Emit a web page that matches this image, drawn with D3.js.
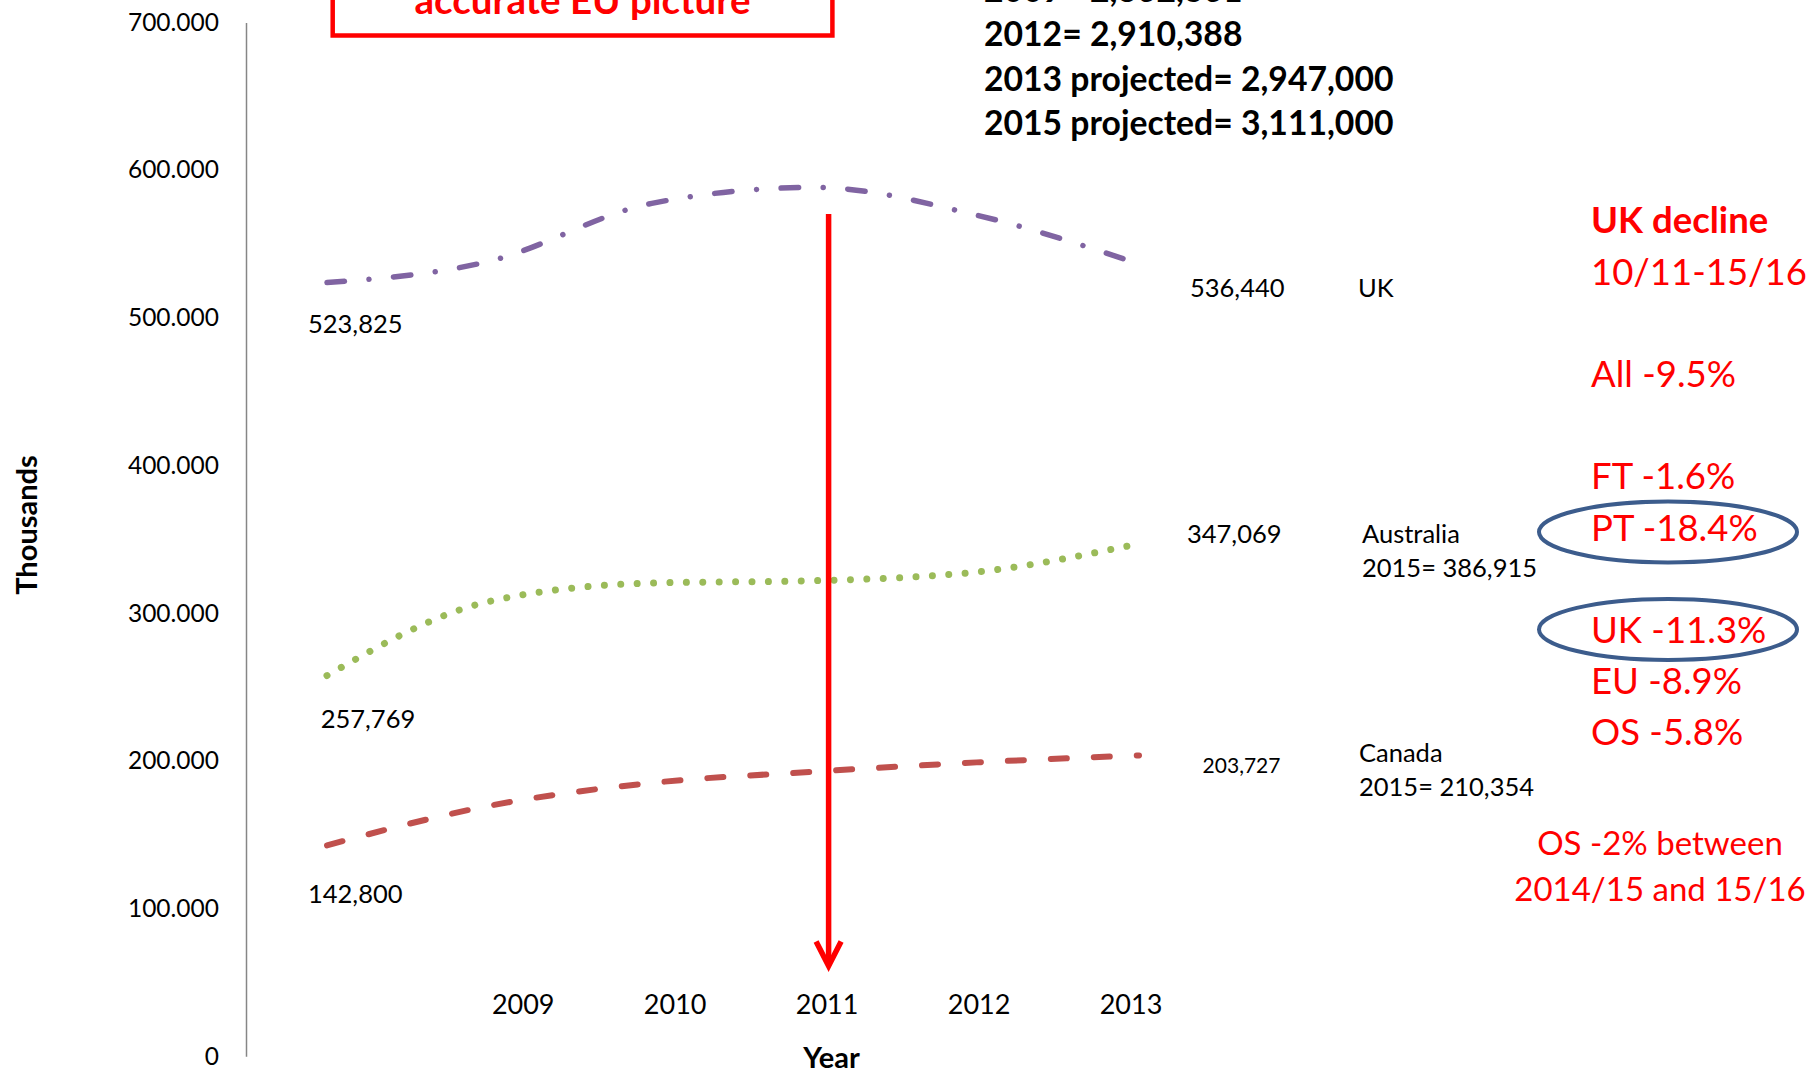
<!DOCTYPE html>
<html>
<head>
<meta charset="utf-8">
<script src="https://cdn.jsdelivr.net/npm/d3@7"></script>
<style>
  html, body { margin: 0; padding: 0; background: #fff; }
  svg { display: block; font-family: Lato, "Open Sans", sans-serif; }
</style>
</head>
<body>
<svg id="chart" width="1810" height="1073"></svg>
<script>
// ---- data ----
const periods = ["2008", "2009", "2010", "2011", "2012", "2013"];
const ukValues = [523825, 538300, 577500, 588300, 569500, 536440];
const australiaValues = [257769, 308000, 320400, 322000, 327900, 347069];
const canadaValues = [142800, 169600, 185100, 192700, 199000, 203727];
const projected2015 = { Australia: 386915, Canada: 210354 };

const yearLabels = ["2009", "2010", "2011", "2012", "2013"];
const yTicks = [0, 100000, 200000, 300000, 400000, 500000, 600000, 700000];

const totalsLines = [
  "2009= 2,862,361",
  "2012= 2,910,388",
  "2013 projected= 2,947,000",
  "2015 projected= 3,111,000"
];
const declineLines = [
  "UK decline", "10/11-15/16", "", "All -9.5%", "", "FT -1.6%", "PT -18.4%", "",
  "UK -11.3%", "EU -8.9%", "OS -5.8%"
];
const circledLines = [6, 8];
const footLines = ["OS -2% between", "2014/15 and 15/16"];
const boxTitle = "accurate EU picture";

// ---- setup ----
const svg = d3.select("#chart");
svg.append("rect").attr("width", 1810).attr("height", 1073).attr("fill", "#fff");

const x = d3.scalePoint().domain(periods).range([327, 1139]);
const y = d3.scaleLinear().domain([0, 700000]).range([1056.3, 22.4]);
const yearX = d3.scalePoint().domain(yearLabels).range([522.7, 1130.5]);

const tickFmt = d3.formatLocale({ decimal: ",", thousands: ".", grouping: [3], currency: ["", ""] }).format(",");
const valFmt = d3.format(",");

// ---- y axis ----
const yAxis = svg.append("g")
  .attr("transform", "translate(246,0)")
  .call(d3.axisLeft(y).tickValues(yTicks).tickSizeInner(0).tickSizeOuter(0).tickPadding(27).tickFormat(tickFmt));
yAxis.select(".domain").attr("stroke", "#868686").attr("stroke-width", 1.5);
yAxis.selectAll("text")
  .attr("font-family", "Lato, sans-serif")
  .attr("font-size", 24.5)
  .attr("fill", "#000");

svg.append("text")
  .attr("transform", "translate(36.5,525) rotate(-90)")
  .attr("text-anchor", "middle")
  .attr("font-weight", "bold")
  .attr("font-size", 29)
  .text("Thousands");

// ---- x labels ----
const xAxis = svg.append("g")
  .attr("transform", "translate(0,1014)")
  .call(d3.axisBottom(yearX).tickSize(0).tickPadding(0));
xAxis.select(".domain").remove();
xAxis.selectAll("text")
  .attr("y", 0).attr("dy", 0)
  .attr("font-family", "Lato, sans-serif")
  .attr("font-size", 27)
  .attr("fill", "#000");

svg.append("text")
  .attr("x", 831.6).attr("y", 1068)
  .attr("text-anchor", "middle")
  .attr("font-weight", "bold")
  .attr("font-size", 29)
  .text("Year");

// ---- series ----
const series = [
  { name: "UK", values: ukValues, color: "#8064A2", width: 5.5, dash: "17.5,24.6,0.01,24.6",
    startOff: [-19, 50.7], endOff: [51, 33.3], endSize: 25.5,
    tag: ["UK"], tagOff: [219, 33.3] },
  { name: "Australia", values: australiaValues, color: "#9BBB59", width: 7, dash: "0.01,16.4",
    startOff: [-6.3, 52.3], endOff: [48, -1], endSize: 25.5,
    tag: ["Australia", "2015= " + valFmt(projected2015.Australia)], tagOff: [223, -1] },
  { name: "Canada", values: canadaValues, color: "#C0504D", width: 6, dash: "16,27",
    startOff: [-19, 57.4], endOff: [63.6, 17.6], endSize: 21,
    tag: ["Canada", "2015= " + valFmt(projected2015.Canada)], tagOff: [220, 6.3] }
];

const line = d3.line()
  .x((d, i) => x(periods[i]))
  .y(d => y(d))
  .curve(d3.curveMonotoneX);

series.forEach(s => {
  svg.append("path")
    .attr("d", line(s.values))
    .attr("fill", "none")
    .attr("stroke", s.color)
    .attr("stroke-width", s.width)
    .attr("stroke-linecap", "round")
    .attr("stroke-dasharray", s.dash);

  const first = s.values[0], last = s.values[s.values.length - 1];
  const x0 = x(periods[0]), x1 = x(periods[periods.length - 1]);

  svg.append("text")
    .attr("x", x0 + s.startOff[0]).attr("y", y(first) + s.startOff[1])
    .attr("font-size", 25.5)
    .text(valFmt(first));

  svg.append("text")
    .attr("x", x1 + s.endOff[0]).attr("y", y(last) + s.endOff[1])
    .attr("font-size", s.endSize)
    .text(valFmt(last));

  const tag = svg.append("text")
    .attr("x", x1 + s.tagOff[0]).attr("y", y(last) + s.tagOff[1])
    .attr("font-size", 25.5);
  s.tag.forEach((t, i) => {
    tag.append("tspan")
      .attr("x", x1 + s.tagOff[0])
      .attr("dy", i === 0 ? 0 : 34.5)
      .text(t);
  });
});

// ---- red arrow at 2011 ----
const ax = yearX("2011") + 2;
svg.append("line")
  .attr("x1", ax).attr("x2", ax)
  .attr("y1", 214).attr("y2", 964)
  .attr("stroke", "#FF0000").attr("stroke-width", 5.5);
svg.append("path")
  .attr("d", d3.line()([[ax - 12.5, 941.5], [ax, 966], [ax + 12.5, 941.5]]))
  .attr("fill", "none")
  .attr("stroke", "#FF0000").attr("stroke-width", 5.5)
  .attr("stroke-linejoin", "miter");

// ---- boxed heading (top) ----
svg.append("rect")
  .attr("x", 332.7).attr("y", -60)
  .attr("width", 499.7).attr("height", 95.5)
  .attr("fill", "none")
  .attr("stroke", "#FF0000").attr("stroke-width", 4.5);
svg.append("text")
  .attr("x", 582.5).attr("y", 14)
  .attr("text-anchor", "middle")
  .attr("font-weight", "bold")
  .attr("font-size", 38.5)
  .attr("fill", "#FF0000")
  .text(boxTitle);

// ---- totals block ----
svg.append("g").selectAll("text")
  .data(totalsLines)
  .join("text")
  .attr("x", 984)
  .attr("y", (d, i) => 1.5 + i * 44.5)
  .attr("font-weight", "bold")
  .attr("font-size", 33.7)
  .attr("fill", "#000")
  .text(d => d);

// ---- decline notes ----
const noteTop = 233.3, noteStep = 51.2;
svg.append("g").selectAll("text")
  .data(declineLines)
  .join("text")
  .attr("x", 1591)
  .attr("y", (d, i) => noteTop + i * noteStep)
  .attr("font-weight", (d, i) => i === 0 ? "bold" : "normal")
  .attr("font-size", 36.5)
  .attr("fill", "#FF0000")
  .text(d => d);

const ellipseShift = { 6: -8.5, 8: -13.5 };
svg.append("g").selectAll("ellipse")
  .data(circledLines)
  .join("ellipse")
  .attr("cx", 1668)
  .attr("cy", d => noteTop + d * noteStep + ellipseShift[d])
  .attr("rx", 129)
  .attr("ry", 30.5)
  .attr("fill", "none")
  .attr("stroke", "#3C5C8C")
  .attr("stroke-width", 4);

svg.append("g").selectAll("text")
  .data(footLines)
  .join("text")
  .attr("x", 1660)
  .attr("y", (d, i) => 855 + i * 45.7)
  .attr("text-anchor", "middle")
  .attr("font-size", 33)
  .attr("fill", "#FF0000")
  .text(d => d);
</script>
</body>
</html>
